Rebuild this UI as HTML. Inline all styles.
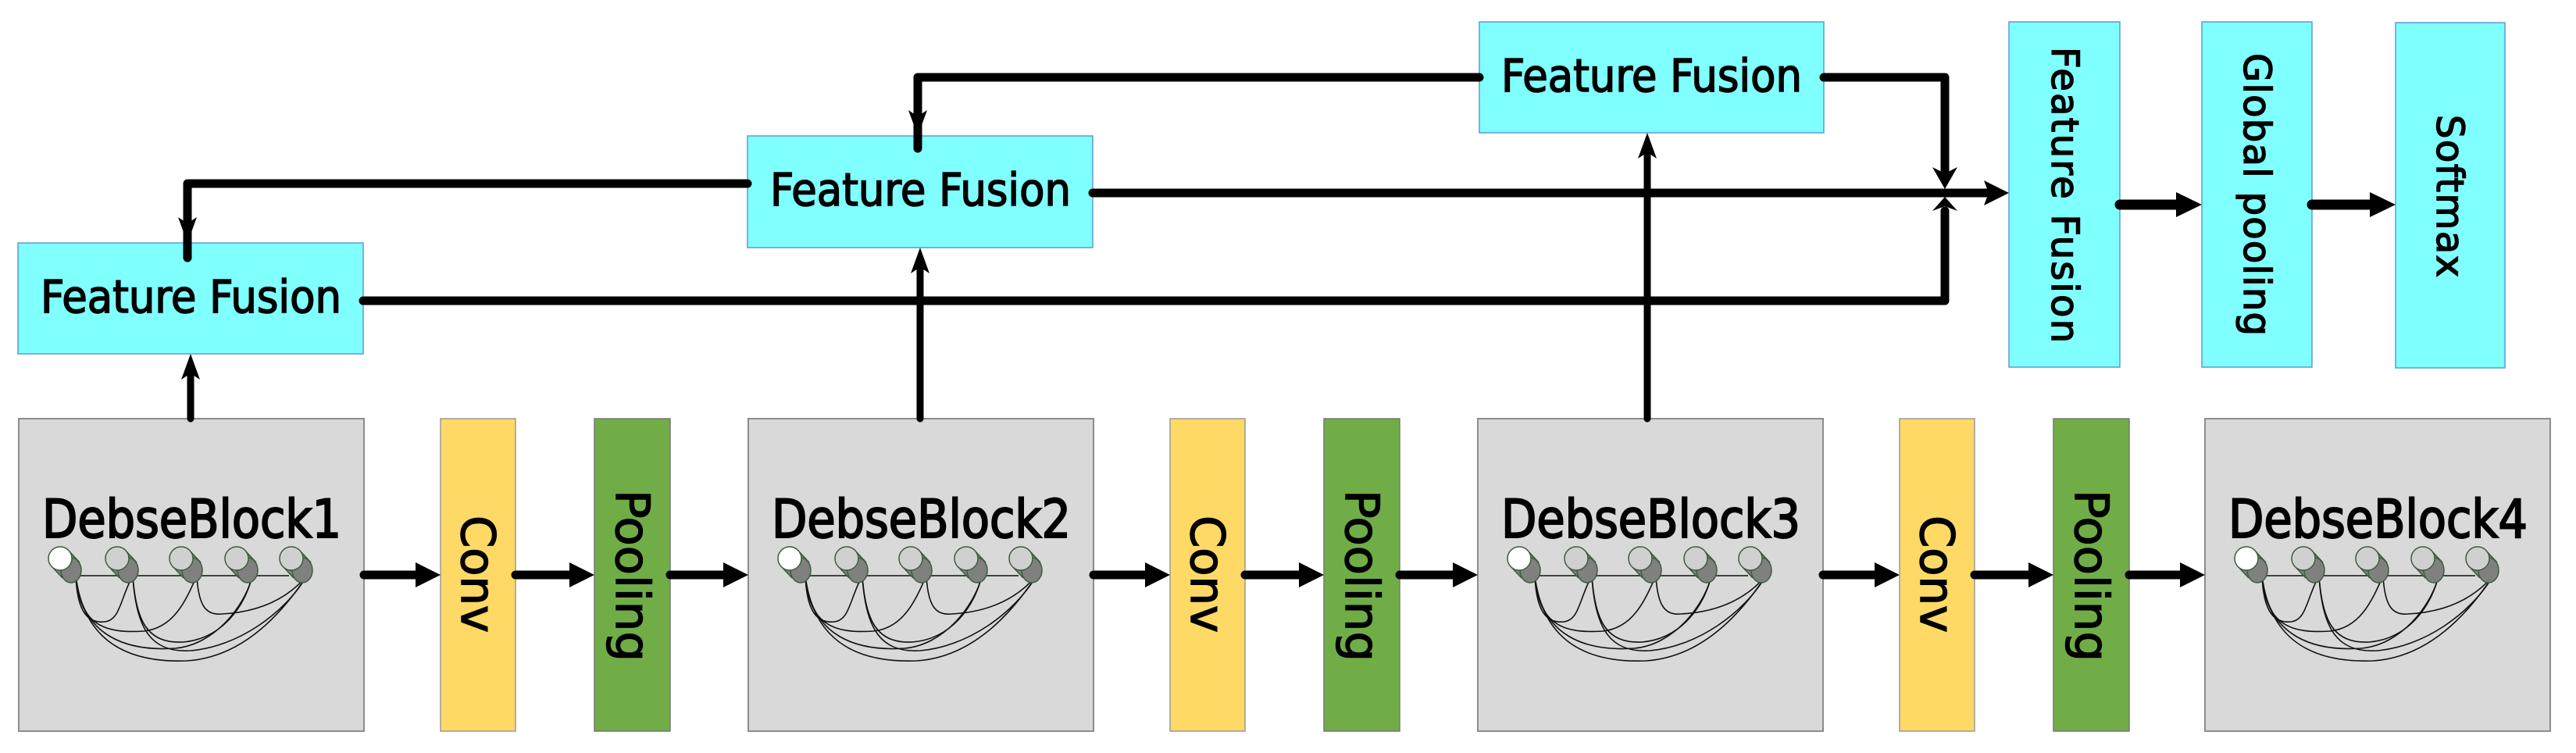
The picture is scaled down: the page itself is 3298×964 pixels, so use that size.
<!DOCTYPE html>
<html><head><meta charset="utf-8"><style>
html,body{margin:0;padding:0;background:#fff;}
svg{display:block;}
</style></head><body>
<svg width="3298" height="964" viewBox="0 0 3298 964" xmlns="http://www.w3.org/2000/svg">
<defs>
<g id="cyl">
  <path d="M11 -10 L25 5 L3 25 L-11 10 Z" fill="#808080" stroke="none"/>
  <ellipse cx="14" cy="15" rx="13" ry="16" fill="#808080"/>
  <path d="M11 -10 L25 5 M-11 10 L3 25" fill="none"/>
</g>
<g id="icon">
  <g fill="none" stroke="#111" stroke-width="1.6">
    <line x1="73" y1="201" x2="346" y2="201"/>
    <path d="M73 201 C75 250,90 262,110 260 C130 258,130 230,146 201"/>
    <path d="M73 201 C78 265,110 275,160 272 C200 268,215 230,228 201"/>
    <path d="M73 201 C80 280,140 298,200 294 C250 290,290 240,299 201"/>
    <path d="M73 201 C85 300,160 312,215 310 C280 306,330 260,369 201"/>
    <path d="M146 201 C150 260,165 288,210 286 C260 282,290 240,299 201"/>
    <path d="M146 201 C150 270,170 300,220 297 C280 292,340 250,369 201"/>
    <path d="M228 201 C230 240,240 252,260 250 C300 248,340 235,369 201"/>
  </g>
  <g stroke="#3d5c3d" stroke-width="1.5">
    <use href="#cyl" transform="translate(53,179)"/>
    <circle cx="53" cy="179" r="15" fill="#fff"/>
    <use href="#cyl" transform="translate(126,179)"/>
    <circle cx="126" cy="179" r="15" fill="#d0d0d0"/>
    <use href="#cyl" transform="translate(208,179)"/>
    <circle cx="208" cy="179" r="15" fill="#d0d0d0"/>
    <use href="#cyl" transform="translate(279,179)"/>
    <circle cx="279" cy="179" r="15" fill="#d0d0d0"/>
    <use href="#cyl" transform="translate(349,179)"/>
    <circle cx="349" cy="179" r="15" fill="#d0d0d0"/>
  </g>
</g>
</defs>

<g fill="#d9d9d9" stroke="#8c8c8c" stroke-width="2">
<rect x="24" y="536" width="442" height="400"/>
<rect x="958" y="536" width="442" height="400"/>
<rect x="1892" y="536" width="442" height="400"/>
<rect x="2823" y="536" width="442" height="400"/>
</g>
<g fill="#ffd966" stroke="#999" stroke-width="1.5">
<rect x="564" y="536" width="96" height="400"/>
<rect x="1498" y="536" width="96" height="400"/>
<rect x="2432" y="536" width="96" height="400"/>
</g>
<g fill="#70ad47" stroke="#777" stroke-width="1.5">
<rect x="761" y="536" width="97" height="400"/>
<rect x="1695" y="536" width="97" height="400"/>
<rect x="2629" y="536" width="97" height="400"/>
</g>
<use href="#icon" transform="translate(24,536)"/>
<use href="#icon" transform="translate(958,536)"/>
<use href="#icon" transform="translate(1892,536)"/>
<use href="#icon" transform="translate(2823,536)"/>

<g font-family="'DejaVu Sans Condensed','Liberation Sans',sans-serif" font-size="68" fill="#000" stroke="#000" stroke-width="2">
<text x="54" y="688" textLength="383" lengthAdjust="spacingAndGlyphs">DebseBlock1</text>
<text x="988" y="688" textLength="383" lengthAdjust="spacingAndGlyphs">DebseBlock2</text>
<text x="1922" y="688" textLength="383" lengthAdjust="spacingAndGlyphs">DebseBlock3</text>
<text x="2853" y="688" textLength="383" lengthAdjust="spacingAndGlyphs">DebseBlock4</text>
</g>

<g font-family="'DejaVu Sans',sans-serif" font-size="60" fill="#000" stroke="#000" stroke-width="1.5">
<text transform="translate(591,660) rotate(90)" textLength="150" lengthAdjust="spacingAndGlyphs">Conv</text>
<text transform="translate(1525,660) rotate(90)" textLength="150" lengthAdjust="spacingAndGlyphs">Conv</text>
<text transform="translate(2459,660) rotate(90)" textLength="150" lengthAdjust="spacingAndGlyphs">Conv</text>
<text transform="translate(789,627) rotate(90)" textLength="220" lengthAdjust="spacingAndGlyphs">Pooling</text>
<text transform="translate(1723,627) rotate(90)" textLength="220" lengthAdjust="spacingAndGlyphs">Pooling</text>
<text transform="translate(2657,627) rotate(90)" textLength="220" lengthAdjust="spacingAndGlyphs">Pooling</text>
</g>

<g fill="#80ffff" stroke="#5b9bd5" stroke-width="1.5">
<rect x="23" y="311" width="442" height="142"/>
<rect x="957" y="174" width="442" height="143"/>
<rect x="1894" y="28" width="441" height="142"/>
<rect x="2572" y="28" width="142" height="442"/>
<rect x="2819" y="28" width="141" height="442"/>
<rect x="3067" y="29" width="140" height="442"/>
</g>
<g font-family="'DejaVu Sans Condensed','Liberation Sans',sans-serif" font-size="58" fill="#000" stroke="#000" stroke-width="1.5">
<text x="52" y="400" textLength="385" lengthAdjust="spacingAndGlyphs">Feature Fusion</text>
<text x="986" y="263" textLength="385" lengthAdjust="spacingAndGlyphs">Feature Fusion</text>
<text x="1922" y="117" textLength="385" lengthAdjust="spacingAndGlyphs">Feature Fusion</text>
</g>
<g font-family="'DejaVu Sans',sans-serif" font-size="48" fill="#000" stroke="#000" stroke-width="1.5">
<text transform="translate(2627,60) rotate(90)" textLength="379" lengthAdjust="spacing">Feature Fusion</text>
<text transform="translate(2873,68) rotate(90)" textLength="362" lengthAdjust="spacing">Global pooling</text>
<text transform="translate(3120,147) rotate(90)" textLength="208" lengthAdjust="spacing">Softmax</text>
</g>

<g stroke="#000" fill="none" stroke-linecap="round" stroke-linejoin="round">
<path d="M466 736 H540 M660 736 H737 M858 736 H934" stroke-width="11"/>
<path d="M1400 736 H1474 M1594 736 H1671 M1792 736 H1868" stroke-width="11"/>
<path d="M2334 736 H2408 M2528 736 H2605 M2726 736 H2799" stroke-width="11"/>
<path d="M465 385 H2490 V270" stroke-width="11"/>
<path d="M957 235 H240 V330" stroke-width="11"/>
<path d="M1399 247 H2545" stroke-width="11"/>
<path d="M1894 99 H1175 V190" stroke-width="11"/>
<path d="M2335 99 H2490 V220" stroke-width="11"/>
<path d="M2714 262 H2790 M2960 262 H3040" stroke-width="13"/>
<path d="M244 536 V470 M1178 536 V335 M2109 536 V188" stroke-width="9"/>
</g>
<g fill="#000">
<path d="M564 736 L532 720 L532 752 Z"/>
<path d="M761 736 L729 720 L729 752 Z"/>
<path d="M958 736 L926 720 L926 752 Z"/>
<path d="M1498 736 L1466 720 L1466 752 Z"/>
<path d="M1695 736 L1663 720 L1663 752 Z"/>
<path d="M1892 736 L1860 720 L1860 752 Z"/>
<path d="M2432 736 L2400 720 L2400 752 Z"/>
<path d="M2629 736 L2597 720 L2597 752 Z"/>
<path d="M2823 736 L2791 720 L2791 752 Z"/>
<path d="M2572 247 L2540 231 L2546 247 L2540 263 Z"/>
<path d="M2819 262 L2786 246 L2786 278 Z"/>
<path d="M3067 262 L3034 246 L3034 278 Z"/>
<path d="M244 453 L256 486 L244 478 L232 486 Z"/>
<path d="M1178 317 L1190 350 L1178 342 L1166 350 Z"/>
<path d="M2109 170 L2121 203 L2109 195 L2097 203 Z"/>
<path d="M240 311 L252 278 L240 286 L228 278 Z"/>
<path d="M1175 174 L1187 141 L1175 149 L1163 141 Z"/>
<path d="M2490 242 L2506 214 L2490 222 L2474 214 Z"/>
<path d="M2490 252 L2506 270 L2490 264 L2474 270 Z"/>
</g>
</svg>
</body></html>
